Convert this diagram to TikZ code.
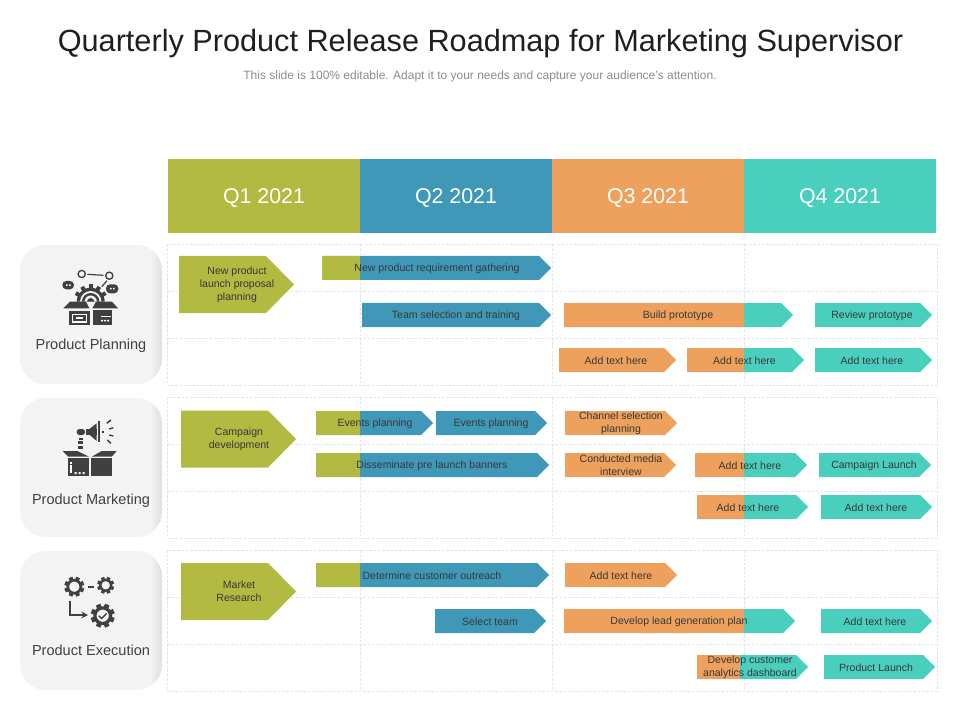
\documentclass[tikz,border=0pt]{standalone}
\usepackage{fontspec}
\setmainfont{Liberation Sans}
\usepackage{xcolor}
\usetikzlibrary{arrows.meta}
\definecolor{olivebar}{RGB}{178,186,65}
\definecolor{bluebar}{RGB}{63,152,184}
\definecolor{orangebar}{RGB}{237,161,93}
\definecolor{tealbar}{RGB}{74,207,191}
\definecolor{cardgray}{RGB}{243,243,243}
\definecolor{icongray}{RGB}{64,64,64}
\definecolor{gridgray}{RGB}{226,229,232}

\tikzset{
	quarter/.style={text=white,inner sep=0,minimum width=144pt,minimum height=55.5pt,text height=11.5pt,text depth=0pt,font=\fontsize{16}{19}\selectfont},
	bartext/.style={text=black!78,align=center,inner sep=0,font=\fontsize{7.9}{9.75}\selectfont},
	cardtext/.style={text=icongray,inner sep=0,font=\fontsize{10.9}{13}\selectfont},
	gridline/.style={gridgray,dashed,line width=0.5pt,dash pattern=on 2pt off 1.2pt}
}

\newcommand{\tagbar}[9]{
	\fill[#7] (#2,#5) -- (#4-12,#5) -- (#4,#5+12) -- (#4-12,#5+24) -- (#2,#5+24) -- cycle;
	\fill[#6] (#2,#5) rectangle (#3,#5+24);
	\node(#1) at (#8,#5+12.5)[bartext]{#9};
}
\newcommand{\tagbig}[4]{
	\fill[olivebar] (#2,#3) -- (#2+87,#3) -- (#2+115,#3+28.5) -- (#2+87,#3+57) -- (#2,#3+57) -- cycle;
	\node(#1) at (#2+58,#3+28.5)[bartext]{#4};
}
\newcommand{\groupcard}[5]{
	\begin{scope}
		\clip[rounded corners=19pt] (20,#2) rectangle (162,#3);
		\fill[cardgray] (20,#2) rectangle (162,#3);
		\shade[left color=cardgray,right color=black!13] (151,#2) rectangle (162,#3);
	\end{scope}
	\node(#1) at (91,#4)[cardtext]{#5};
}
\newcommand{\gridblock}[1]{
	\draw[gridline] (167,#1) rectangle (937,#1+141);
	\draw[gridline] (167,#1+47) -- (937,#1+47);
	\draw[gridline] (167,#1+94) -- (937,#1+94);
	\foreach \xline in {360,552,744}
		\draw[gridline] (\xline,#1) -- (\xline,#1+141);
}
\newcommand{\gearmark}[3]{
	\draw[icongray,line width=#3*0.2pt] (#1,#2) circle (#3*0.65);
	\foreach \tooth in {0,45,...,315}
		\fill[icongray,rotate around={\tooth+22.5:(#1,#2)}] (#1-#3*0.2,#2-#3) rectangle (#1+#3*0.2,#2-#3*0.7);
}

\begin{document}
\begin{tikzpicture}[x=0.75pt,y=-0.75pt]
	\useasboundingbox (0,0) rectangle (960,720);
	\fill[white] (0,0) rectangle (960,720);

	\node(title) at (480.5,43.5)[text=black!88,inner sep=0,font=\fontsize{23}{28}\selectfont]{Quarterly Product Release Roadmap for Marketing Supervisor};
	\node(subtitle) at (480,76)[text=black!45,inner sep=0,font=\fontsize{9}{11}\selectfont]{This slide is 100\% editable. Adapt it to your needs and capture your audience's attention.};

	\node(q1) at (264,196)[quarter,fill=olivebar]{Q1 2021};
	\node(q2) at (456,196)[quarter,fill=bluebar]{Q2 2021};
	\node(q3) at (648,196)[quarter,fill=orangebar]{Q3 2021};
	\node(q4) at (840,196)[quarter,fill=tealbar]{Q4 2021};

	\gridblock{244}
	\gridblock{397}
	\gridblock{550}

	\groupcard{planning}{245}{384}{346}{Product Planning}
	\groupcard{marketing}{398}{537}{501}{Product Marketing}
	\groupcard{execution}{551}{690}{650}{Product Execution}

	\tagbig{newproduct}{179}{256}{New product\\launch proposal\\planning}
	\tagbar{gathering}{322}{360}{551}{256}{olivebar}{bluebar}{437}{New product requirement gathering}
	\tagbar{teamtrain}{362}{362}{551}{303}{bluebar}{bluebar}{456}{Team selection and training}
	\tagbar{buildproto}{564}{744}{793}{303}{orangebar}{tealbar}{678}{Build prototype}
	\tagbar{reviewproto}{815}{815}{932}{303}{tealbar}{tealbar}{872}{Review prototype}
	\tagbar{addtexta}{559}{664}{676}{348}{orangebar}{orangebar}{616}{Add text here}
	\tagbar{addtextb}{687}{744}{804}{348}{orangebar}{tealbar}{744.5}{Add text here}
	\tagbar{addtextc}{815}{815}{932}{348}{tealbar}{tealbar}{872}{Add text here}

	\tagbig{campaign}{181}{410.5}{Campaign\\development}
	\tagbar{eventsa}{316}{360}{433}{411}{olivebar}{bluebar}{375}{Events planning}
	\tagbar{eventsb}{436}{436}{547}{411}{bluebar}{bluebar}{491}{Events planning}
	\tagbar{channel}{565}{665}{677}{411}{orangebar}{orangebar}{621}{Channel selection\\planning}
	\tagbar{banners}{316}{360}{549}{453}{olivebar}{bluebar}{432}{Disseminate pre launch banners}
	\tagbar{media}{565}{664}{676}{453}{orangebar}{orangebar}{621}{Conducted media\\interview}
	\tagbar{addtextd}{695}{744}{807}{453}{orangebar}{tealbar}{750}{Add text here}
	\tagbar{launcha}{819}{819}{931}{453}{tealbar}{tealbar}{874}{Campaign Launch}
	\tagbar{addtexte}{697}{744}{808}{495}{orangebar}{tealbar}{748}{Add text here}
	\tagbar{addtextf}{821}{821}{932}{495}{tealbar}{tealbar}{876}{Add text here}

	\tagbig{research}{181}{563}{Market\\Research}
	\tagbar{outreach}{316}{360}{549}{563}{olivebar}{bluebar}{432}{Determine customer outreach}
	\tagbar{addtextg}{565}{665}{677}{563}{orangebar}{orangebar}{621}{Add text here}
	\tagbar{selectteam}{435}{435}{546}{609}{bluebar}{bluebar}{490}{Select team}
	\tagbar{leadplan}{564}{744}{795}{609}{orangebar}{tealbar}{679}{Develop lead generation plan}
	\tagbar{addtexth}{821}{821}{932}{609}{tealbar}{tealbar}{875}{Add text here}
	\tagbar{dashboard}{697}{740}{808}{655}{orangebar}{tealbar}{750}{Develop customer\\analytics dashboard}
	\tagbar{launchb}{824}{824}{935}{655}{tealbar}{tealbar}{876}{Product Launch}

	\draw[icongray,line width=1pt] (81.7,274) circle (3.6);
	\draw[icongray,line width=1pt] (109.3,275.7) circle (3.6);
	\draw[icongray,line width=0.9pt] (87.3,274.3) -- (103.3,275.3);
	\draw[icongray,line width=0.9pt] (107,280.7) -- (101.7,286.7);
	\fill[icongray,rounded corners=3pt] (62.3,281) rectangle (74,289.3);
	\fill[icongray,rounded corners=3pt] (106,284.3) rectangle (118.3,293.3);
	\fill[white] (66,284.5) rectangle (67.5,286) (69,284.5) rectangle (70.5,286);
	\fill[white] (110,288) rectangle (111.5,289.5) (113,288) rectangle (114.5,289.5);
	\fill[icongray] (76.7,301.7) arc (180:360:14) -- cycle;
	\foreach \tooth in {-60,-30,0,30,60}
		\fill[icongray,rotate around={\tooth:(90.7,301.7)}] (88.7,284.5) rectangle (92.7,289);
	\fill[cardgray] (80,301.7) arc (180:360:10.7) -- cycle;
	\fill[icongray] (82,301.7) arc (180:360:8.7) -- cycle;
	\fill[cardgray] (84.5,301.7) arc (180:360:6.2) -- cycle;
	\fill[icongray] (87,301.7) arc (180:360:3.7) -- cycle;
	\fill[icongray] (63.3,308.3) -- (70,301.7) -- (86,301.7) -- (89.3,308.3) -- cycle;
	\fill[icongray] (92.3,308.3) -- (96,301.7) -- (112,301.7) -- (118,308.3) -- cycle;
	\fill[icongray] (69,310.7) rectangle (90,325);
	\fill[icongray] (92.7,310) rectangle (111.7,325);
	\fill[white] (71.5,313.5) rectangle (87,322.5);
	\fill[icongray] (73,315) rectangle (85.5,321);
	\fill[white] (75.5,317) rectangle (83,319);
	\fill[white] (100.5,316) rectangle (110.5,317.3);
	\fill[white] (101,319.8) rectangle (103,321.3) (104,319.8) rectangle (106,321.3) (107,319.8) rectangle (109,321.3);

	\fill[icongray] (86,431.7) -- (96.7,423.3) -- (96.7,441) -- cycle;
	\fill[icongray] (86,428.5) rectangle (96.7,435);
	\draw[icongray,line width=1.1pt] (99,421) -- (99,442);
	\fill[icongray,rounded corners=2pt] (76.7,429) rectangle (85,435);
	\fill[icongray] (102,430.7) rectangle (103.5,432.7);
	\draw[icongray,line width=1.1pt] (106.7,423.3) -- (111,420);
	\draw[icongray,line width=1.1pt] (109.3,429) -- (113.3,427.7);
	\draw[icongray,line width=1.1pt] (109.3,435) -- (113.3,436);
	\draw[icongray,line width=1.1pt] (107.3,440) -- (111,443.3);
	\fill[icongray] (79.3,437.7) rectangle (83.3,440);
	\fill[icongray] (78.3,441) rectangle (83.3,444.3);
	\fill[icongray] (78.3,446) rectangle (83.3,449);
	\fill[icongray] (62.7,451) -- (77.3,451) -- (89,456.7) -- (68.3,456.7) -- cycle;
	\fill[icongray] (91.7,456.7) -- (101.7,451) -- (116.7,451) -- (111.7,456.7) -- cycle;
	\fill[icongray] (68.3,457.7) rectangle (89,475.7);
	\fill[icongray] (91,457.7) rectangle (111.7,475.7);
	\fill[white] (70,461.5) rectangle (71.5,463.5);
	\fill[white] (70,465) rectangle (71.5,472.5);
	\fill[white] (74.5,472) rectangle (76.5,474) (78.5,472) rectangle (80.5,474) (82.5,472) rectangle (84.5,474);

	\gearmark{74.3}{586.7}{10}
	\gearmark{105.7}{585.3}{8.5}
	\draw[icongray,line width=1.4pt] (88.3,586.7) -- (94.3,586.7);
	\draw[icongray,line width=0.9pt,-{Stealth[length=5pt,width=5pt]}] (70,600.7) -- (70,615) -- (88,615);
	\gearmark{102.7}{615.7}{12}
	\draw[icongray,line width=1pt] (98.7,615.7) -- (101.7,618.5) -- (106.7,613.3);
\end{tikzpicture}
\end{document}
